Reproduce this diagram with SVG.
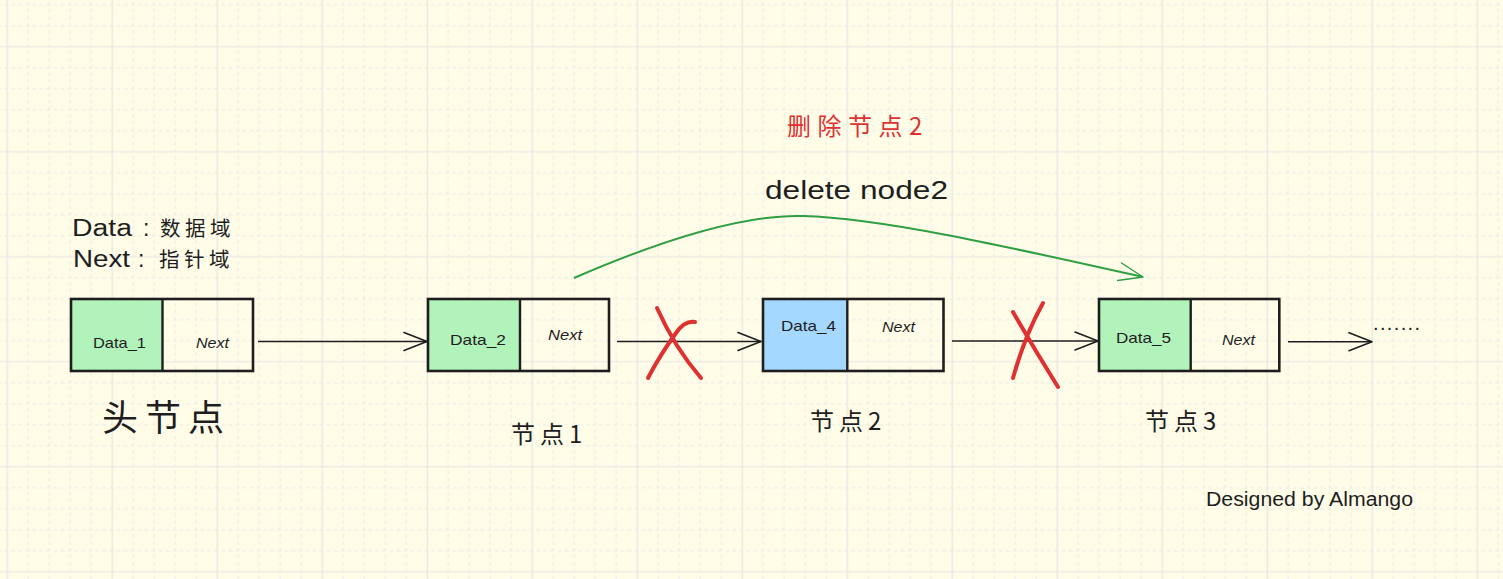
<svg xmlns="http://www.w3.org/2000/svg" width="1503" height="579" viewBox="0 0 1503 579">
  <defs>
    <pattern id="grid" patternUnits="userSpaceOnUse" x="-2.7" y="36.7" width="105" height="105">
      <g stroke="#e9e9e6" stroke-width="1" stroke-dasharray="4 3" fill="none">
        <line x1="31" y1="0" x2="31" y2="105"/>
        <line x1="52" y1="0" x2="52" y2="105"/>
        <line x1="73" y1="0" x2="73" y2="105"/>
        <line x1="94" y1="0" x2="94" y2="105"/>
        <line x1="0" y1="31" x2="105" y2="31"/>
        <line x1="0" y1="52" x2="105" y2="52"/>
        <line x1="0" y1="73" x2="105" y2="73"/>
        <line x1="0" y1="94" x2="105" y2="94"/>
      </g>
      <g stroke="#e4e4e2" stroke-width="1.2" fill="none">
        <line x1="10" y1="0" x2="10" y2="105"/>
        <line x1="0" y1="10" x2="105" y2="10"/>
      </g>
    </pattern>
    <marker id="arr" markerUnits="userSpaceOnUse" markerWidth="30" markerHeight="24" viewBox="-26 -12 30 24" refX="0" refY="0" orient="auto" overflow="visible">
      <path d="M-23,-9 L0,0 L-23,9" fill="none" stroke="#1e1e1e" stroke-width="1.6" stroke-linecap="round" stroke-linejoin="round"/>
    </marker>
    <marker id="arrG" markerUnits="userSpaceOnUse" markerWidth="30" markerHeight="24" viewBox="-26 -12 30 24" refX="0" refY="0" orient="auto" overflow="visible">
      <path d="M-24,-9 L0,0 L-24,9" fill="none" stroke="#2f9e44" stroke-width="1.4" stroke-linecap="round" stroke-linejoin="round"/>
    </marker>
    <style>
      .box { fill: none; stroke: #1e1e1e; stroke-width: 2.6; }
      .div { stroke: #1e1e1e; stroke-width: 2.4; }
      .green { fill: #b2f2bb; }
      .blue { fill: #a5d8ff; }
      .t { font-family: "Liberation Sans", "Noto Sans CJK SC", sans-serif; fill: #1e1e1e; }
      .cjk { font-family: "Noto Sans CJK SC", "Liberation Sans", sans-serif; fill: #1e1e1e; }
      .small { font-size: 15px; }
      .conn { fill: none; stroke: #1e1e1e; stroke-width: 1.6; }
      .cross { fill: none; stroke: #e03131; stroke-width: 4; stroke-linecap: round; stroke-linejoin: round; }
    </style>
  </defs>

  <rect x="0" y="0" width="1503" height="579" fill="#fffde8"/>
  <rect x="0" y="0" width="1503" height="579" fill="url(#grid)"/>

  <g id="legend">
    <text class="t" x="72" y="236" font-size="23" textLength="60" lengthAdjust="spacingAndGlyphs">Data</text>
    <text class="t" x="143" y="236" font-size="23">:</text>
    <text class="cjk" x="160" y="236" font-size="20.5" letter-spacing="4.5">数据域</text>
    <text class="t" x="73" y="267" font-size="23" textLength="57" lengthAdjust="spacingAndGlyphs">Next</text>
    <text class="t" x="138" y="267" font-size="23">:</text>
    <text class="cjk" x="159" y="267" font-size="20.5" letter-spacing="4.5">指针域</text>
  </g>

  <g id="head-node">
    <rect class="green" x="71" y="299" width="91.5" height="72"/>
    <rect class="box" x="71" y="299" width="182" height="72"/>
    <line class="div" x1="162.5" y1="299" x2="162.5" y2="371"/>
    <text class="t small" x="93" y="347.5" textLength="53" lengthAdjust="spacingAndGlyphs">Data_1</text>
    <text class="t small" x="196" y="348" textLength="33" lengthAdjust="spacingAndGlyphs" font-style="italic">Next</text>
    <text class="cjk" x="102" y="431" font-size="36" letter-spacing="7">头节点</text>
  </g>

  <g id="node1">
    <rect class="green" x="428" y="299" width="92" height="72"/>
    <rect class="box" x="428" y="299" width="181" height="72"/>
    <line class="div" x1="520" y1="299" x2="520" y2="371"/>
    <text class="t small" x="450" y="345" textLength="56" lengthAdjust="spacingAndGlyphs">Data_2</text>
    <text class="t small" x="548" y="340" textLength="34" lengthAdjust="spacingAndGlyphs" font-style="italic">Next</text>
    <text class="cjk" x="511" y="443" font-size="24" letter-spacing="5">节点1</text>
  </g>

  <g id="node2">
    <rect class="blue" x="763" y="299" width="84.3" height="72"/>
    <rect class="box" x="763" y="299" width="180.5" height="72"/>
    <line class="div" x1="847.3" y1="299" x2="847.3" y2="371"/>
    <text class="t small" x="781" y="331" textLength="55" lengthAdjust="spacingAndGlyphs">Data_4</text>
    <text class="t small" x="882" y="332" textLength="33" lengthAdjust="spacingAndGlyphs" font-style="italic">Next</text>
    <text class="cjk" x="810" y="430" font-size="24" letter-spacing="5">节点2</text>
  </g>

  <g id="node3">
    <rect class="green" x="1099" y="299" width="91.7" height="72"/>
    <rect class="box" x="1099" y="299" width="180.3" height="72"/>
    <line class="div" x1="1190.7" y1="299" x2="1190.7" y2="371"/>
    <text class="t small" x="1116" y="343" textLength="55" lengthAdjust="spacingAndGlyphs">Data_5</text>
    <text class="t small" x="1222" y="345" textLength="33" lengthAdjust="spacingAndGlyphs" font-style="italic">Next</text>
    <text class="cjk" x="1145" y="430" font-size="24" letter-spacing="5">节点3</text>
  </g>

  <g id="more">
    <text class="t" x="1373" y="330" font-size="20" textLength="47" lengthAdjust="spacing">.......</text>
  </g>

  <g id="connectors">
    <path class="conn" d="M258,341.5 L427,341.5" marker-end="url(#arr)"/>
    <path class="conn" d="M617,341.5 L761,341.5" marker-end="url(#arr)"/>
    <path class="conn" d="M952,341 L1098,341" marker-end="url(#arr)"/>
    <path class="conn" d="M1288,341.7 L1372,341.7" marker-end="url(#arr)"/>
    <path d="M574,278 C650,245 740,214 803,216 C880,218 1000,245 1143,277" fill="none" stroke="#2f9e44" stroke-width="2" marker-end="url(#arrG)"/>
  </g>

  <g id="cross1">
    <path class="cross" d="M657,308 Q675,348 701,378"/>
    <path class="cross" d="M695,322 Q685,320 676,333 Q660,355 648,378"/>
  </g>
  <g id="cross2">
    <path class="cross" d="M1043,303 Q1025,335 1013,378"/>
    <path class="cross" d="M1013,312 Q1035,350 1058,387"/>
  </g>

  <g id="labels">
    <text class="cjk" x="787" y="135" font-size="24" letter-spacing="6.5" style="fill:#e03131">删除节点2</text>
    <text class="t" x="765" y="199" font-size="25" textLength="183" lengthAdjust="spacingAndGlyphs">delete node2</text>
    <text class="t" x="1206" y="506" font-size="20" textLength="207" lengthAdjust="spacingAndGlyphs">Designed by Almango</text>
  </g>
</svg>
